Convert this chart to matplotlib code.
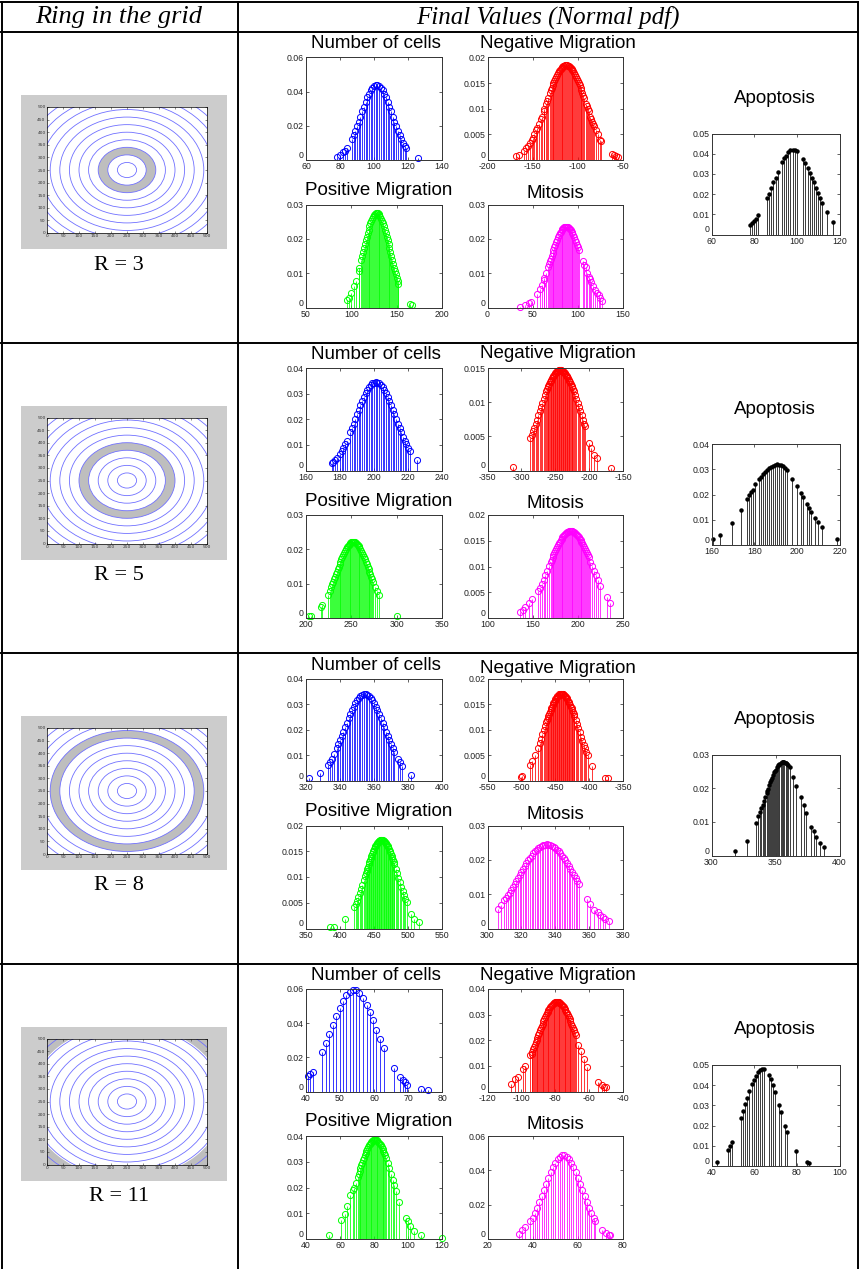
import matplotlib
matplotlib.use('Agg')
import matplotlib.pyplot as plt
from matplotlib.patches import Rectangle, Circle, Wedge
from matplotlib.lines import Line2D
from matplotlib.ticker import FuncFormatter

plt.rcParams['axes.unicode_minus'] = False

W, H = 859, 1269

# ---------------- data ----------------
ring_labels = ['R = 3', 'R = 5', 'R = 8', 'R = 11']
ring_inner = [60, 120, 210, 305]
ring_outer = [90, 150, 240, 360]
grid_radii = [30, 60, 90, 120, 150, 180, 210, 240, 270, 300, 330, 360]
grid_ticks = [0, 50, 100, 150, 200, 250, 300, 350, 400, 450, 500]

panel_titles = ['Number of cells', 'Negative Migration', 'Positive Migration', 'Mitosis', 'Apoptosis']
panel_colors = ['#0000ff', '#ff0000', '#00ff00', '#ff00ff', 'black']

# ---- R = 3 ----
r3_cells_x = [78, 80, 82, 83, 84, 87, 88, 89, 90, 91, 92, 93, 94, 95, 96, 97, 98, 99, 100, 101, 102, 103,
              104, 105, 106, 107, 108, 109, 110, 111, 112, 113, 114, 115, 116, 117, 118, 119, 126]
r3_cells_y = [0.0015, 0.0027, 0.0044, 0.0055, 0.0069, 0.0123, 0.0145, 0.0170, 0.0197, 0.0225, 0.0254, 0.0284,
              0.0313, 0.0340, 0.0366, 0.0389, 0.0408, 0.0424, 0.0434, 0.0440, 0.0440, 0.0434, 0.0424, 0.0408,
              0.0389, 0.0366, 0.0340, 0.0313, 0.0284, 0.0254, 0.0225, 0.0197, 0.0170, 0.0145, 0.0123, 0.0102,
              0.0084, 0.0069, 0.0011]
r3_neg_x = [-168, -165, -160, -157, -155, -153, -151, -150, -148, -146, -145, -143, -141, -140, -138, -137,
            -135, -134, -133, -131, -130, -129, -128, -127, -126, -125, -124, -123, -122, -121, -120, -119,
            -118, -117, -116, -115, -114, -113, -112, -111, -110, -109, -108, -107, -106, -105, -104, -103,
            -102, -101, -100, -99, -98, -97, -96, -95, -94, -93, -91, -90, -89, -88, -86, -85, -84, -83, -82,
            -80, -78, -75, -74, -62, -60, -58, -55]
r3_neg_y = [0.00072, 0.00102, 0.00173, 0.00232, 0.00279, 0.00333, 0.00393, 0.00427, 0.00498, 0.00576,
            0.00617, 0.00705, 0.00798, 0.00847, 0.00947, 0.00998, 0.0110, 0.01153, 0.01205, 0.01307,
            0.01357, 0.01406, 0.01454, 0.0150, 0.01543, 0.01585, 0.01625, 0.01662, 0.01696, 0.01728,
            0.01755, 0.0178, 0.01801, 0.01819, 0.01832, 0.0184, 0.0185, 0.0185, 0.0185, 0.0184,
            0.01832, 0.01819, 0.01801, 0.0178, 0.01755, 0.01728, 0.01696, 0.01662, 0.01625, 0.01585,
            0.01543, 0.0150, 0.01454, 0.01406, 0.01357, 0.01307, 0.01256, 0.01205, 0.0110, 0.01049,
            0.00998, 0.00947, 0.00847, 0.00798, 0.00751, 0.00705, 0.0066, 0.00576, 0.00498, 0.00393,
            0.00362, 0.00114, 0.00091, 0.00072, 0.0005]
r3_pos_x = [95, 97, 100, 103, 105, 108, 109, 111, 112, 113, 114, 115, 116, 117, 118, 119, 120, 121, 122, 123,
            124, 125, 126, 127, 128, 129, 130, 131, 132, 133, 134, 135, 136, 137, 138, 139, 140, 141, 142, 143,
            144, 145, 146, 147, 148, 149, 150, 151, 152, 165, 167]
r3_pos_y = [0.00206, 0.00279, 0.00425, 0.00621, 0.0078, 0.0106, 0.01164, 0.01382, 0.01495, 0.0161, 0.01724,
            0.01839, 0.01952, 0.02062, 0.02167, 0.02268, 0.02362, 0.02447, 0.02524, 0.02591, 0.02647, 0.02692,
            0.02724, 0.02743, 0.0275, 0.02743, 0.02724, 0.02692, 0.02647, 0.02591, 0.02524, 0.02447, 0.02362,
            0.02268, 0.02167, 0.02062, 0.01952, 0.01839, 0.01724, 0.0161, 0.01495, 0.01382, 0.01272, 0.01164,
            0.0106, 0.00962, 0.00869, 0.0078, 0.00698, 0.00106, 0.00073]
r3_mit_x = [36, 41, 46, 48, 55, 58, 60, 62, 63, 65, 67, 68, 69, 70, 71, 72, 73, 74, 75, 76, 77, 78, 79, 80,
            81, 82, 83, 84, 85, 86, 87, 88, 89, 90, 91, 92, 93, 94, 95, 96, 97, 98, 99, 100,
            101.5, 106, 107, 108.5, 110, 112, 113, 115, 117, 119, 121, 123, 125, 127]
r3_mit_y = [0.00026, 0.0006, 0.00128, 0.00169, 0.004, 0.00549, 0.00666, 0.00797, 0.00867, 0.01017, 0.01177,
            0.01258, 0.01342, 0.01425, 0.01509, 0.01592, 0.01674, 0.01754, 0.01832, 0.01906, 0.01977, 0.02043,
            0.02104, 0.02159, 0.02208, 0.02251, 0.02286, 0.02313, 0.02334, 0.02346, 0.0235, 0.02346, 0.02334,
            0.02313, 0.02286, 0.02251, 0.02208, 0.02159, 0.02104, 0.02043, 0.01977, 0.01906, 0.01832, 0.01754,
            0.0167, 0.0134, 0.0125, 0.0117, 0.0101, 0.0088, 0.0082, 0.0074, 0.0062, 0.0052, 0.0042, 0.0036,
            0.0027, 0.0019]
r3_apo_x = [78, 79, 80, 81, 82, 86, 87, 88, 89, 90, 91, 93, 94, 95, 96, 97, 98, 99, 100, 103, 104, 105, 106,
            107, 108, 109, 110, 111, 112, 114, 117]
r3_apo_y = [0.0045, 0.0055, 0.0065, 0.0078, 0.0095, 0.018, 0.020, 0.023, 0.026, 0.028, 0.031, 0.036, 0.038,
            0.039, 0.041, 0.042, 0.042, 0.042, 0.0415, 0.0375, 0.0355, 0.033, 0.0305, 0.028, 0.026, 0.023,
            0.0205, 0.018, 0.0155, 0.011, 0.006]

# ---- R = 5 ----
r5_cells_x = [175, 176, 177, 178, 180, 181, 182, 183, 184, 186, 187, 188, 189, 190, 191, 192, 193, 194, 195,
              196, 197, 198, 199, 200, 201, 202, 203, 204, 205, 206, 207, 208, 209, 210, 211, 212, 213, 214,
              215, 216, 217, 218, 219, 220, 221, 225]
r5_cells_y = [0.0030, 0.00332, 0.00399, 0.00476, 0.00661, 0.00771, 0.00893, 0.01025, 0.01169, 0.01485,
              0.01656, 0.01832, 0.02012, 0.02193, 0.02372, 0.02547, 0.02715, 0.02872, 0.03015, 0.03142,
              0.03249, 0.03336, 0.03399, 0.03432, 0.0345, 0.03432, 0.03399, 0.03336, 0.03249, 0.03142,
              0.03015, 0.02872, 0.02715, 0.02547, 0.02372, 0.02193, 0.02012, 0.01832, 0.01656, 0.01485,
              0.01322, 0.01169, 0.01025, 0.00893, 0.00771, 0.00399]
r5_neg_x = [-313, -287, -285, -283, -281, -279, -277, -275, -273, -271, -269, -267, -265, -263, -262, -261,
            -260, -259, -258, -257, -256, -255, -254, -253, -252, -251, -250, -249, -248, -247, -246, -245,
            -244, -243, -242, -241, -240, -239, -238, -237, -236, -235, -234, -233, -232, -231, -230, -229,
            -228, -227, -226, -225, -224, -223, -221, -219, -217, -215, -213, -211, -209, -207, -206, -200,
            -197, -193, -189, -167]
r5_neg_y = [0.0005, 0.0047, 0.00521, 0.00574, 0.00629, 0.00686, 0.00745, 0.00805, 0.00866, 0.00927, 0.00988,
            0.01048, 0.01106, 0.01162, 0.01189, 0.01215, 0.0124, 0.01265, 0.01288, 0.0131, 0.01331, 0.01351,
            0.01369, 0.01386, 0.01402, 0.01416, 0.01428, 0.01439, 0.01448, 0.01456, 0.01462, 0.01467, 0.0147,
            0.0147, 0.0147, 0.01467, 0.01462, 0.01456, 0.01448, 0.01439, 0.01428, 0.01416, 0.01402, 0.01386,
            0.01369, 0.01351, 0.01331, 0.0131, 0.01288, 0.01265, 0.0124, 0.01215, 0.01189, 0.01162, 0.01106,
            0.01048, 0.00988, 0.00927, 0.00866, 0.00805, 0.00745, 0.00686, 0.00657, 0.004, 0.0033, 0.0023,
            0.0019, 0.0003]
r5_pos_x = [203, 205, 217, 218, 224, 226, 228, 229, 230, 231, 232, 233, 234, 235, 236, 237, 238, 239, 240, 241,
            242, 243, 244, 245, 246, 247, 248, 249, 250, 251, 252, 253, 254, 255, 256, 257, 258, 259, 260, 261,
            262, 263, 264, 265, 266, 267, 268, 269, 270, 271, 272, 273, 274, 276, 278, 280, 300]
r5_pos_y = [0.0007, 0.0007, 0.00334, 0.00371, 0.0066, 0.0078, 0.0091, 0.00979, 0.0105, 0.01122, 0.01195,
            0.01269, 0.01344, 0.0142, 0.01494, 0.01567, 0.01639, 0.01709, 0.01776, 0.01841, 0.01902, 0.01958,
            0.02011, 0.02058, 0.021, 0.02136, 0.02166, 0.02189, 0.02206, 0.02217, 0.0222, 0.02217, 0.02206,
            0.02189, 0.02166, 0.02136, 0.021, 0.02058, 0.02011, 0.01958, 0.01902, 0.01841, 0.01776, 0.01709,
            0.01639, 0.01567, 0.01494, 0.0142, 0.01344, 0.01269, 0.01195, 0.01122, 0.0105, 0.0091, 0.0078,
            0.0066, 0.0007]
r5_mit_x = [136, 139, 142, 146, 149, 156, 158, 160, 162, 164, 166, 168, 170, 171, 172, 173, 174, 175, 176, 177,
            178, 179, 180, 181, 182, 183, 184, 185, 186, 187, 188, 189, 190, 191, 192, 193, 194, 195, 196, 197,
            198, 199, 200, 201, 202, 203, 204, 205, 206, 207, 208, 209, 210, 211, 212, 214, 216, 218, 220, 222,
            225, 232, 236]
r5_mit_y = [0.0012, 0.0015, 0.0022, 0.0029, 0.0036, 0.0052, 0.0059, 0.00667, 0.00746, 0.00829, 0.00915,
            0.01002, 0.01089, 0.01132, 0.01175, 0.01218, 0.01259, 0.013, 0.0134, 0.01378, 0.01415, 0.0145,
            0.01483, 0.01514, 0.01543, 0.0157, 0.01595, 0.01616, 0.01636, 0.01652, 0.01665, 0.01676, 0.01684,
            0.01688, 0.0169, 0.01688, 0.01684, 0.01676, 0.01665, 0.01652, 0.01636, 0.01616, 0.01595, 0.0157,
            0.01543, 0.01514, 0.01483, 0.0145, 0.01415, 0.01378, 0.0134, 0.013, 0.01259, 0.01218, 0.01175,
            0.01089, 0.01002, 0.00915, 0.00829, 0.00746, 0.00629, 0.0041, 0.003]
r5_apo_x = [160.8, 163.8, 169.6, 173.7, 176.7, 177.6, 178.6, 179.5, 180.4, 182.2, 183.1, 184, 184.9, 185.9,
            186.8, 187.7, 188.7, 189.6, 190.6, 191.5, 192.4, 193.4, 194.4, 195.3, 197.5, 200, 201.8, 202.9,
            204.7, 205.7, 206.7, 208.7, 209.7, 211.7, 219]
r5_apo_y = [0.0022, 0.0039, 0.0088, 0.014, 0.0184, 0.0197, 0.021, 0.0219, 0.0243, 0.026, 0.0271, 0.0282,
            0.029, 0.0298, 0.0305, 0.0309, 0.0313, 0.0317, 0.0319, 0.0318, 0.0316, 0.0312, 0.0306, 0.0298,
            0.0262, 0.0233, 0.0206, 0.019, 0.0161, 0.0148, 0.013, 0.0105, 0.0092, 0.007, 0.0022]

# ---- R = 8 ----
r8_cells_x = [322, 328, 333, 334, 335, 336.5, 338, 339, 340, 341, 342, 343, 344, 345, 346, 347, 348, 349, 350,
              351, 352, 353, 354, 355, 356, 357, 358, 359, 360, 361, 362, 363, 364, 365, 366, 367, 368, 369,
              370, 371, 372, 374, 375, 376.5, 382]
r8_cells_y = [0.0012, 0.003, 0.0064, 0.00748, 0.00863, 0.01056, 0.01272, 0.01426, 0.01589, 0.01757, 0.01929,
              0.02102, 0.02275, 0.02445, 0.02608, 0.02762, 0.02904, 0.03032, 0.03143, 0.03235, 0.03305,
              0.03353, 0.03377, 0.03377, 0.03353, 0.03305, 0.03235, 0.03143, 0.03032, 0.02904, 0.02762,
              0.02608, 0.02445, 0.02275, 0.02102, 0.01929, 0.01757, 0.01589, 0.01426, 0.01272, 0.01125,
              0.00863, 0.00748, 0.00595, 0.0025]
r8_neg_x = [-501, -499, -487, -484, -480, -476, -473, -471, -469, -467, -465, -463, -462, -461, -460, -459,
            -458, -457, -456, -455, -454, -453, -452, -451, -450, -449, -448, -447, -446, -445, -444, -443,
            -442, -441, -440, -439, -438, -437, -436, -435, -434, -433, -432, -431, -430, -429, -428, -427,
            -426, -425, -424, -423, -422, -420, -418, -416, -414, -412, -410, -408, -406, -404, -402, -396,
            -376, -372]
r8_neg_y = [0.0008, 0.001, 0.00313, 0.00387, 0.00504, 0.00638, 0.00749, 0.00828, 0.00908, 0.0099, 0.01072,
            0.01154, 0.01194, 0.01234, 0.01274, 0.01312, 0.01349, 0.01385, 0.0142, 0.01453, 0.01485, 0.01515,
            0.01543, 0.01569, 0.01593, 0.01615, 0.01635, 0.01652, 0.01666, 0.01678, 0.01688, 0.01695, 0.01699,
            0.017, 0.01699, 0.01695, 0.01688, 0.01678, 0.01666, 0.01652, 0.01635, 0.01615, 0.01593, 0.01569,
            0.01543, 0.01515, 0.01485, 0.01453, 0.0142, 0.01385, 0.01349, 0.01312, 0.01274, 0.01194, 0.01113,
            0.01031, 0.00949, 0.00868, 0.00788, 0.00711, 0.00638, 0.00569, 0.00504, 0.003, 0.0005, 0.0005]
r8_pos_x = [385, 391, 408, 421, 423, 425, 427, 429, 431, 433, 435, 437, 438, 439, 440, 441, 442, 443, 444, 445,
            446, 447, 448, 449, 450, 451, 452, 453, 454, 455, 456, 457, 458, 459, 460, 461, 462, 463, 464, 465,
            466, 467, 468, 469, 470, 471, 472, 473, 474, 475, 476, 477, 478, 479, 480, 482, 484, 486, 488, 490,
            492, 494, 496, 498, 505, 509, 516]
r8_pos_y = [0.0002, 0.0002, 0.0019, 0.00412, 0.00474, 0.00541, 0.00613, 0.0069, 0.0077, 0.00854, 0.00941,
            0.01029, 0.01073, 0.01117, 0.0116, 0.01203, 0.01246, 0.01288, 0.01329, 0.01369, 0.01407, 0.01444,
            0.01479, 0.01512, 0.01544, 0.01573, 0.016, 0.01625, 0.01646, 0.01666, 0.01682, 0.01696, 0.01706,
            0.01714, 0.01718, 0.0172, 0.01718, 0.01714, 0.01706, 0.01696, 0.01682, 0.01666, 0.01646, 0.01625,
            0.016, 0.01573, 0.01544, 0.01512, 0.01479, 0.01444, 0.01407, 0.01369, 0.01329, 0.01288, 0.01246,
            0.0116, 0.01073, 0.00984, 0.00897, 0.00812, 0.00729, 0.0065, 0.00576, 0.00507, 0.0029, 0.0019,
            0.0013]
r8_mit_x = [306, 308, 310, 311, 312, 313, 314, 315, 316, 317, 318, 319, 320, 321, 322, 323, 324, 325, 326, 327,
            328, 329, 330, 331, 332, 333, 334, 335, 336, 337, 338, 339, 340, 341, 342, 343, 344, 345, 346, 347,
            348, 349, 350, 351, 352, 353, 354, 358.5, 360.5, 363, 365, 366.5, 368, 369.5, 371.5]
r8_mit_y = [0.0056, 0.00682, 0.00818, 0.00892, 0.00968, 0.01048, 0.0113, 0.01214, 0.01301, 0.01388, 0.01476,
            0.01564, 0.01651, 0.01737, 0.01821, 0.01903, 0.01981, 0.02056, 0.02125, 0.0219, 0.02248, 0.023,
            0.02345, 0.02382, 0.02412, 0.02433, 0.02446, 0.0245, 0.02446, 0.02433, 0.02412, 0.02382, 0.02345,
            0.023, 0.02248, 0.0219, 0.02125, 0.02056, 0.01981, 0.01903, 0.01821, 0.01737, 0.01651, 0.01564,
            0.01476, 0.01388, 0.01301, 0.0085, 0.0071, 0.0054, 0.0047, 0.0039, 0.0033, 0.0029, 0.0022]
r8_apo_x = [318, 327.5, 334.7, 336.6, 338, 339, 340, 341, 342, 343, 343.5, 344, 345, 346, 346.5, 347, 348,
            349, 349.5, 350, 351, 352, 352.5, 353, 354, 355, 355.5, 356, 357, 358, 358.5, 359, 360, 361,
            363.4, 366, 369.7, 371.9, 374, 377.8, 379.7, 381.6, 384.4, 387.5]
r8_apo_y = [0.0012, 0.0043, 0.0096, 0.0118, 0.01286, 0.01397, 0.01511, 0.01627, 0.01743, 0.01859, 0.01916,
            0.01973, 0.02084, 0.02191, 0.02242, 0.02292, 0.02388, 0.02474, 0.02514, 0.02552, 0.02619, 0.02676,
            0.027, 0.02721, 0.02754, 0.02773, 0.02778, 0.0278, 0.02773, 0.02754, 0.02739, 0.02721, 0.02676,
            0.02619, 0.0234, 0.0207, 0.0175, 0.015, 0.0127, 0.0086, 0.0073, 0.0055, 0.0038, 0.0025]

# ---- R = 11 ----
r11_cells_x = [40.7, 41.3, 42, 44.8, 45.8, 46.9, 47.9, 48.8, 49.9, 50.8, 51.7, 52.8, 53.7, 54.7, 55.7, 56.7,
               57.8, 58.7, 59.8, 60.7, 61.7, 62.8, 65.9, 67.7, 68.6, 69.1, 69.8, 73.7, 75.8]
r11_cells_y = [0.0091, 0.0101, 0.0115, 0.0233, 0.0285, 0.0334, 0.039, 0.0441, 0.0487, 0.053, 0.0563, 0.0583,
               0.0592, 0.0592, 0.0577, 0.0546, 0.0505, 0.0466, 0.0416, 0.0361, 0.0305, 0.0256, 0.0136, 0.0082,
               0.0066, 0.0056, 0.0039, 0.0012, 0.001]
r11_neg_x = [-106, -103.5, -102, -99.3, -98, -95, -94, -93.5, -93, -92.5, -92, -91.5, -91, -90.5, -90, -89.5,
             -89, -88.5, -88, -87.5, -87, -86.5, -86, -85.5, -85, -84.5, -84, -83.5, -83, -82.5, -82, -81.5,
             -81, -80.5, -80, -79.5, -79, -78.5, -78, -77.5, -77, -76.5, -76, -75.5, -75, -74.5, -74, -73.5,
             -73, -72.5, -72, -71.5, -71, -70.5, -70, -69.5, -69, -68.5, -68, -66.5, -65, -63.3, -61, -55,
             -52.6, -51, -50]
r11_neg_y = [0.0028, 0.0048, 0.0058, 0.0087, 0.01, 0.0142, 0.01473, 0.01559, 0.01647, 0.01736, 0.01827,
             0.01919, 0.02011, 0.02105, 0.02198, 0.0229, 0.02382, 0.02473, 0.02563, 0.02651, 0.02736, 0.02819,
             0.02899, 0.02975, 0.03047, 0.03116, 0.03179, 0.03238, 0.03291, 0.03339, 0.03381, 0.03417, 0.03446,
             0.0347, 0.03487, 0.03497, 0.035, 0.03497, 0.03487, 0.0347, 0.03446, 0.03417, 0.03381, 0.03339,
             0.03291, 0.03238, 0.03179, 0.03116, 0.03047, 0.02975, 0.02899, 0.02819, 0.02736, 0.02651, 0.02563,
             0.02473, 0.02382, 0.0229, 0.02198, 0.0182, 0.0158, 0.0126, 0.0097, 0.0039, 0.0026, 0.0018, 0.0016]
r11_pos_x = [53.7, 60.7, 62.8, 64.4, 66, 67.4, 68.5, 69.5, 70.5, 71, 71.5, 72, 72.5, 73, 73.5, 74, 74.5, 75,
             75.5, 76, 76.5, 77, 77.5, 78, 78.5, 79, 79.5, 80, 80.5, 81, 81.5, 82, 82.5, 83, 83.5, 84, 84.5, 85,
             85.5, 86, 86.5, 87, 88, 89, 90, 91, 92, 93, 94.7, 98.6, 100, 101.4, 103.7, 107.4, 119.8]
r11_pos_y = [0.0017, 0.0074, 0.0097, 0.0127, 0.0169, 0.0191, 0.0197, 0.02193, 0.02418, 0.0253, 0.02641,
             0.02751, 0.02859, 0.02964, 0.03065, 0.03163, 0.03256, 0.03345, 0.03427, 0.03504, 0.03574, 0.03637,
             0.03692, 0.0374, 0.03779, 0.0381, 0.03832, 0.03846, 0.0385, 0.03846, 0.03832, 0.0381, 0.03779,
             0.0374, 0.03692, 0.03637, 0.03574, 0.03504, 0.03427, 0.03345, 0.03256, 0.03163, 0.02964, 0.02751,
             0.0253, 0.02305, 0.02081, 0.0186, 0.0143, 0.0081, 0.0068, 0.0052, 0.0032, 0.0014, 0.0004]
r11_mit_x = [34, 35.4, 36.7, 38.6, 40, 41, 42, 43, 44, 45, 46, 47, 48, 49, 50, 51, 52, 53, 54, 55, 56, 57, 58,
             59, 60, 61, 62, 63, 64, 65, 66, 67, 67.8, 70.9, 72.3, 73.6, 74.4]
r11_mit_y = [0.0029, 0.0053, 0.0068, 0.0107, 0.01247, 0.01515, 0.01813, 0.02138, 0.02483, 0.02841, 0.03203,
             0.03557, 0.03891, 0.04194, 0.04452, 0.04657, 0.04799, 0.0487, 0.0487, 0.04799, 0.04657, 0.04452,
             0.04194, 0.03891, 0.03557, 0.03203, 0.02841, 0.02483, 0.02138, 0.01813, 0.01515, 0.01247, 0.0103,
             0.0053, 0.0033, 0.0025, 0.0021]
r11_apo_x = [42.8, 47.7, 48.6, 49.75, 53.7, 54.9, 55.75, 56.7, 57.8, 58.75, 59.9, 60.8, 61.9, 62.7, 63.6, 64.6,
             67, 67.9, 68.7, 69.8, 71.7, 72.6, 74.4, 75.5, 79.6, 84.6, 85.5]
r11_apo_y = [0.0022, 0.0079, 0.0099, 0.0119, 0.0237, 0.027, 0.0308, 0.0336, 0.0369, 0.0407, 0.0424, 0.0447,
             0.0465, 0.0477, 0.048, 0.048, 0.0449, 0.0432, 0.0399, 0.0366, 0.03, 0.0268, 0.02, 0.0167, 0.0075,
             0.0022, 0.0017]

# axis ticks for each panel (cells, neg, pos, mitosis, apoptosis)
r3_xticks = [[60, 80, 100, 120, 140], [-200, -150, -100, -50], [50, 100, 150, 200], [0, 50, 100, 150], [60, 80, 100, 120]]
r3_yticks = [[0, 0.02, 0.04, 0.06], [0, 0.005, 0.01, 0.015, 0.02], [0, 0.01, 0.02, 0.03], [0, 0.01, 0.02, 0.03],
             [0, 0.01, 0.02, 0.03, 0.04, 0.05]]
r5_xticks = [[160, 180, 200, 220, 240], [-350, -300, -250, -200, -150], [200, 250, 300, 350], [100, 150, 200, 250],
             [160, 180, 200, 220]]
r5_yticks = [[0, 0.01, 0.02, 0.03, 0.04], [0, 0.005, 0.01, 0.015], [0, 0.01, 0.02, 0.03],
             [0, 0.005, 0.01, 0.015, 0.02], [0, 0.01, 0.02, 0.03, 0.04]]
r8_xticks = [[320, 340, 360, 380, 400], [-550, -500, -450, -400, -350], [350, 400, 450, 500, 550],
             [300, 320, 340, 360, 380], [300, 350, 400]]
r8_yticks = [[0, 0.01, 0.02, 0.03, 0.04], [0, 0.005, 0.01, 0.015, 0.02], [0, 0.005, 0.01, 0.015, 0.02],
             [0, 0.01, 0.02, 0.03], [0, 0.01, 0.02, 0.03]]
r11_xticks = [[40, 50, 60, 70, 80], [-120, -100, -80, -60, -40], [40, 60, 80, 100, 120], [20, 40, 60, 80],
              [40, 60, 80, 100]]
r11_yticks = [[0, 0.02, 0.04, 0.06], [0, 0.01, 0.02, 0.03, 0.04], [0, 0.01, 0.02, 0.03, 0.04], [0, 0.02, 0.04, 0.06],
              [0, 0.01, 0.02, 0.03, 0.04, 0.05]]

rows = [
    dict(series=[(r3_cells_x, r3_cells_y), (r3_neg_x, r3_neg_y), (r3_pos_x, r3_pos_y), (r3_mit_x, r3_mit_y),
                 (r3_apo_x, r3_apo_y)], xt=r3_xticks, yt=r3_yticks),
    dict(series=[(r5_cells_x, r5_cells_y), (r5_neg_x, r5_neg_y), (r5_pos_x, r5_pos_y), (r5_mit_x, r5_mit_y),
                 (r5_apo_x, r5_apo_y)], xt=r5_xticks, yt=r5_yticks),
    dict(series=[(r8_cells_x, r8_cells_y), (r8_neg_x, r8_neg_y), (r8_pos_x, r8_pos_y), (r8_mit_x, r8_mit_y),
                 (r8_apo_x, r8_apo_y)], xt=r8_xticks, yt=r8_yticks),
    dict(series=[(r11_cells_x, r11_cells_y), (r11_neg_x, r11_neg_y), (r11_pos_x, r11_pos_y),
                 (r11_mit_x, r11_mit_y), (r11_apo_x, r11_apo_y)], xt=r11_xticks, yt=r11_yticks),
]

# ---------------- layout (pixels) ----------------
row_top = [32, 342.5, 653, 963.5]
panel_box = [(306, 25.5, 442, 128), (487.5, 25.5, 623, 128), (306, 172.5, 442, 275.5),
             (487.5, 172.5, 623, 275.5), (711.5, 101.5, 839.5, 202.5)]
title_pos = [(376, 12), (558, 11.5), (379, 158.5), (555.5, 161.3), (775, 66.5)]
neg_title_dy = [0, 0, 4, 0]


def fbox(x0, y0, x1, y1):
    return [x0 / W, 1 - y1 / H, (x1 - x0) / W, (y1 - y0) / H]


def fx(x):
    return x / W


def fy(y):
    return 1 - y / H


fmt = FuncFormatter(lambda v, p: f'{v:g}')

fig = plt.figure(figsize=(W / 100, H / 100), dpi=100)
fig.patch.set_facecolor('white')

# table lines
lw_tab = 1.4
for y in [1.5, 32] + row_top[1:]:
    fig.add_artist(Line2D([fx(1), fx(858)], [fy(y), fy(y)], color='black', lw=lw_tab))
for x in [1.5, 238.5, 857.5]:
    fig.add_artist(Line2D([fx(x), fx(x)], [fy(1.5), fy(1269)], color='black', lw=lw_tab))

fig.text(fx(119), fy(17), 'Ring in the grid', ha='center', va='center', fontsize=19,
         family='Liberation Serif', style='italic')
fig.text(fx(548), fy(17), 'Final Values (Normal pdf)', ha='center', va='center', fontsize=18,
         family='Liberation Serif', style='italic')

for i, row in enumerate(rows):
    top = row_top[i]

    # ---- grid picture ----
    fig.add_artist(Rectangle((fx(21), fy(top + 217)), 206 / W, 154 / H, transform=fig.transFigure,
                             facecolor='#cccccc', edgecolor='none', zorder=-1))
    gax = fig.add_axes(fbox(47, top + 75, 207, top + 201))
    gax.add_patch(Wedge((250, 250), ring_outer[i], 0, 360, width=ring_outer[i] - ring_inner[i],
                        facecolor='#bebebe', edgecolor='none'))
    for r in grid_radii:
        gax.add_patch(Circle((250, 250), r, fill=False, edgecolor='#7070ff', lw=0.6))
    gax.set_xlim(0, 500)
    gax.set_ylim(0, 500)
    gax.set_xticks(grid_ticks)
    gax.set_yticks(grid_ticks)
    gax.tick_params(direction='in', length=1.5, width=0.4, labelsize=3.2, pad=1, top=True, right=True,
                    colors='#333333')
    for s in gax.spines.values():
        s.set_linewidth(0.5)
    fig.text(fx(119), fy(top + 233), ring_labels[i], ha='center', va='center', fontsize=16,
             family='Liberation Serif')

    # ---- stem panels ----
    for k in range(5):
        x0, y0, x1, y1 = panel_box[k]
        ax = fig.add_axes(fbox(x0, top + y0, x1, top + y1))
        xs, ys = row['series'][k]
        if k == 4:
            ax.vlines(xs, 0, ys, colors='#3a3a3a', lw=0.7)
            ax.plot(xs, ys, 'o', ms=2.2, color='black', clip_on=False)
        else:
            c = panel_colors[k]
            ax.vlines(xs, 0, ys, colors=c, lw=0.55)
            ax.plot(xs, ys, 'o', ms=4.4, mfc='none', mec=c, mew=0.7, clip_on=False)
        xt, yt = row['xt'][k], row['yt'][k]
        ax.set_xlim(xt[0], xt[-1])
        ax.set_ylim(yt[0], yt[-1])
        ax.set_xticks(xt)
        ax.set_yticks(yt)
        ax.xaxis.set_major_formatter(fmt)
        ax.yaxis.set_major_formatter(fmt)
        ax.tick_params(direction='in', length=2.5, width=0.5, labelsize=6.3, pad=1.5, top=True, right=True,
                       colors='#222222')
        for lab in ax.get_xticklabels() + ax.get_yticklabels():
            lab.set_family('Liberation Sans')
        ax.get_yticklabels()[0].set_verticalalignment('bottom')
        for s in ax.spines.values():
            s.set_linewidth(0.7)
            s.set_color('#333333')
        tx, ty = title_pos[k]
        if k == 1:
            ty += neg_title_dy[i]
        fig.text(fx(tx), fy(top + ty), panel_titles[k], ha='center', va='center', fontsize=13.5,
                 family='Liberation Sans')

fig.savefig('out.png', dpi=100)
